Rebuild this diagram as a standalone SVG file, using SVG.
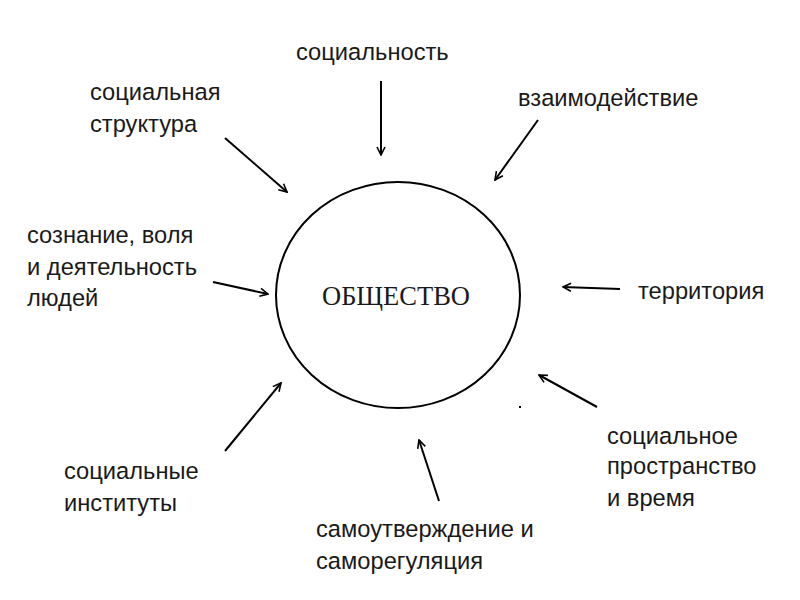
<svg xmlns="http://www.w3.org/2000/svg" width="800" height="600" viewBox="0 0 800 600">
<style>
.lbl{font-family:"Liberation Sans",Arial,sans-serif;font-size:23.7px;fill:#1a1a1a}
.ctr{font-family:"Liberation Serif","Times New Roman",serif;font-size:26.5px;fill:#1a1a1a}
.ar{stroke:#000;stroke-width:2;fill:none;marker-end:url(#ah)}
</style>
<defs>
<marker id="ah" viewBox="0 0 10 10" refX="9" refY="5" markerWidth="10" markerHeight="10" markerUnits="userSpaceOnUse" orient="auto">
<path d="M1,1 L9,5 L1,9" fill="none" stroke="#000" stroke-width="1.6"/>
</marker>
</defs>
<rect width="800" height="600" fill="#fff"/>
<g id="society">
<ellipse cx="398" cy="295" rx="122" ry="113" fill="none" stroke="#000" stroke-width="2"/>
<text class="ctr" x="396" y="305" text-anchor="middle">ОБЩЕСТВО</text>
</g>
<g id="n-socialnost"><text class="lbl" x="296" y="60">социальность</text></g>
<g id="n-struktura"><text class="lbl" x="90" y="100">социальная</text><text class="lbl" x="90" y="132">структура</text></g>
<g id="n-vzaimo"><text class="lbl" x="518" y="106">взаимодействие</text></g>
<g id="n-soznanie"><text class="lbl" x="27" y="243">сознание, воля</text><text class="lbl" x="27" y="275">и деятельность</text><text class="lbl" x="27" y="306">людей</text></g>
<g id="n-territoriya"><text class="lbl" x="638" y="299">территория</text></g>
<g id="n-prostranstvo"><text class="lbl" x="607" y="444">социальное</text><text class="lbl" x="607" y="474">пространство</text><text class="lbl" x="607" y="506">и время</text></g>
<g id="n-instituty"><text class="lbl" x="64" y="479">социальные</text><text class="lbl" x="64" y="511">институты</text></g>
<g id="n-samo"><text class="lbl" x="316" y="537">самоутверждение и</text><text class="lbl" x="316" y="569">саморегуляция</text></g>
<g id="connectors">
<line class="ar" x1="381" y1="81" x2="381" y2="155"/>
<line class="ar" x1="225" y1="138" x2="287" y2="192"/>
<line class="ar" x1="538" y1="120" x2="495" y2="180"/>
<line class="ar" x1="213" y1="282" x2="268" y2="294"/>
<line class="ar" x1="620" y1="289" x2="563" y2="287"/>
<line class="ar" x1="225" y1="451" x2="281" y2="383"/>
<line class="ar" x1="439" y1="501" x2="419" y2="440"/>
<line class="ar" x1="597" y1="407" x2="539" y2="375"/>
</g>
<rect x="519" y="406" width="2" height="2" fill="#000"/>
</svg>
